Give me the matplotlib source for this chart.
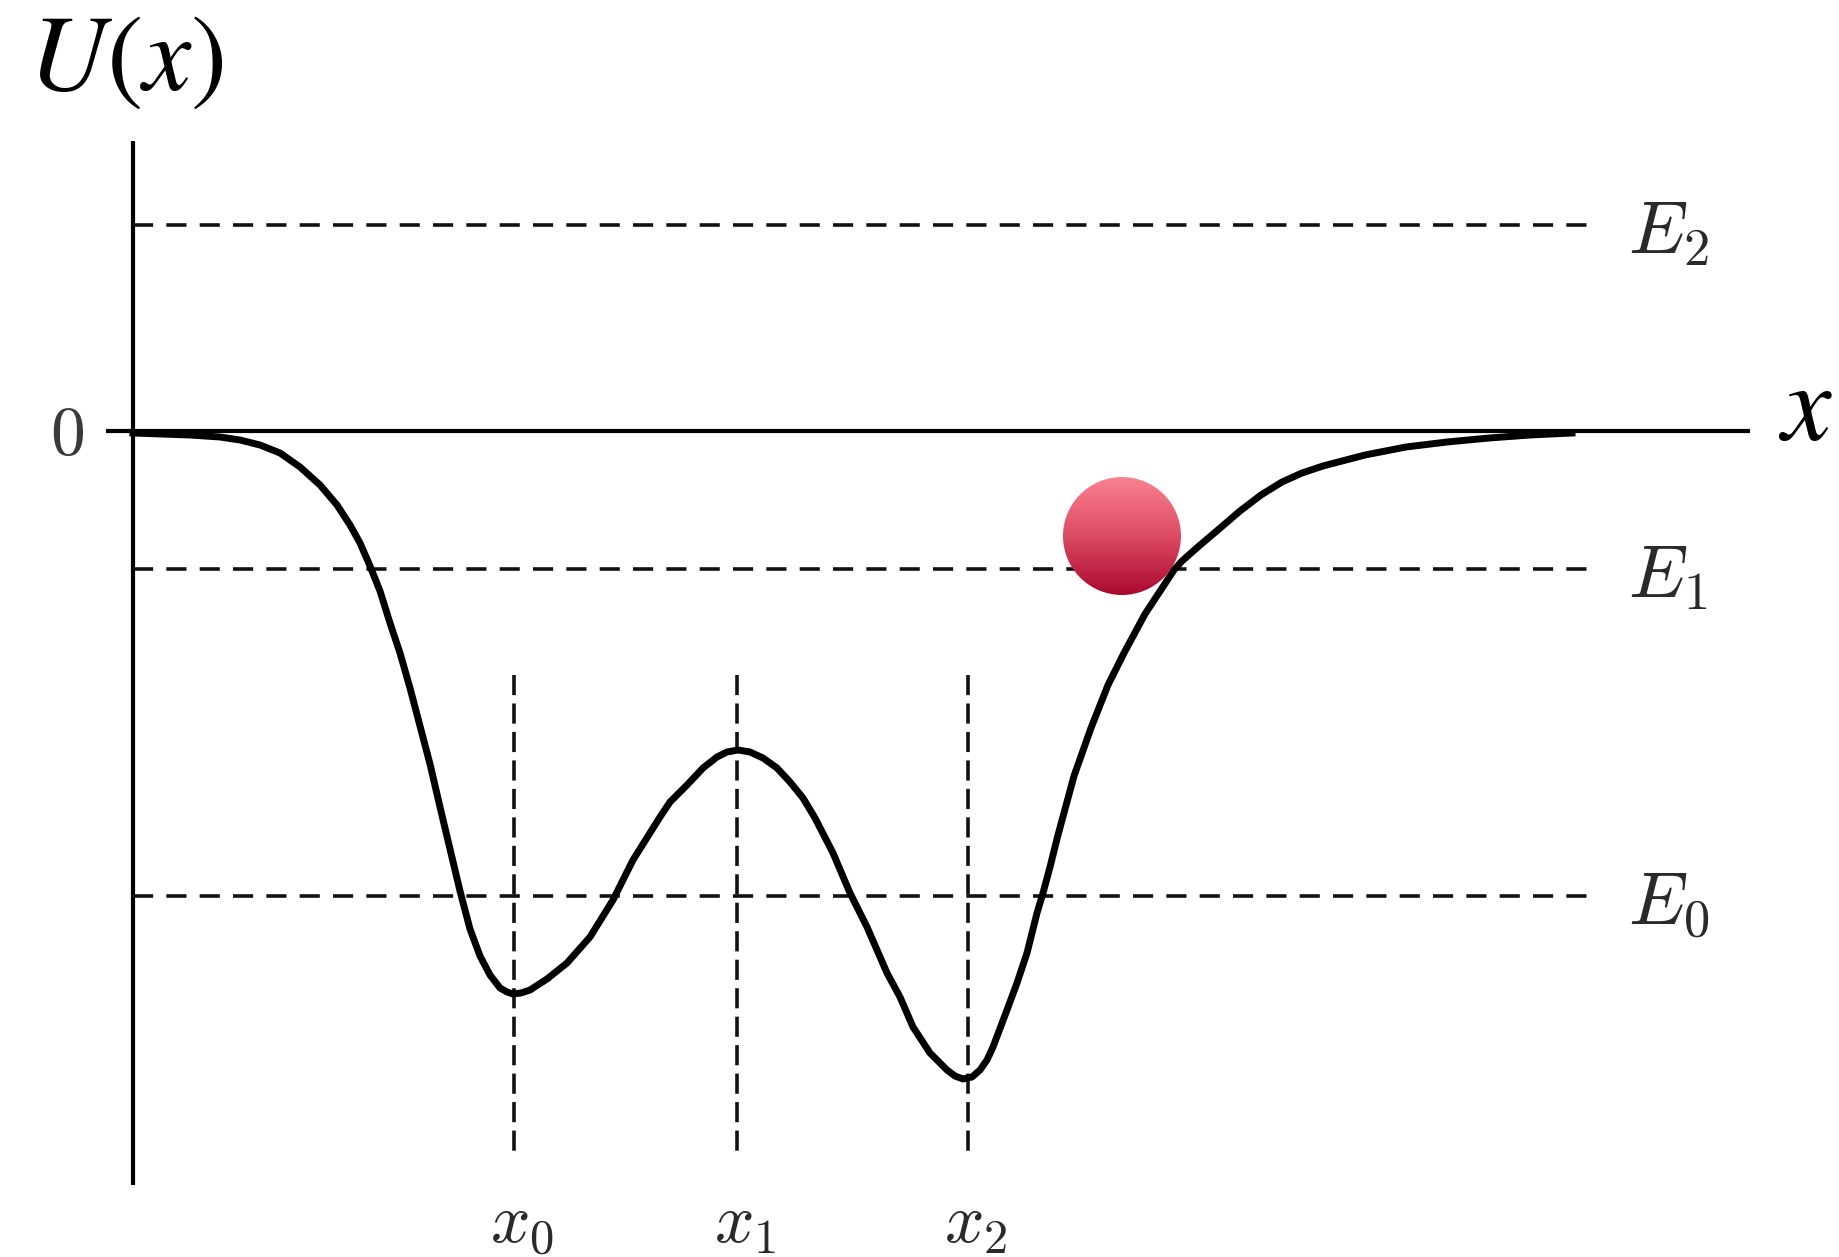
import numpy as np
import matplotlib
matplotlib.use("Agg")
import matplotlib.pyplot as plt
from matplotlib.patches import Circle

plt.rcParams['mathtext.fontset'] = 'cm'
plt.rcParams['lines.scale_dashes'] = False

# Potential curve U(x)
x_curve = [0.00, 0.57, 0.87, 1.07, 1.27, 1.47, 1.67, 1.87, 2.04, 2.17,
           2.27, 2.37, 2.47, 2.57, 2.67, 2.77, 2.87, 2.97, 3.07, 3.17,
           3.27, 3.37, 3.47, 3.57, 3.67, 3.74, 3.80, 3.88, 3.97, 4.14,
           4.34, 4.57, 4.80, 5.00, 5.27, 5.37, 5.54, 5.70, 5.84, 5.94,
           6.05, 6.17, 6.30, 6.44, 6.57, 6.70, 6.82, 7.00,
           7.17, 7.34, 7.54, 7.67, 7.80, 7.97, 8.14, 8.22, 8.30, 8.39,
           8.47, 8.54, 8.60, 8.74, 8.84, 8.94, 9.04, 9.10, 9.17, 9.25,
           9.41, 9.58, 9.75, 9.91, 10.12, 10.41, 10.49, 10.66, 10.86, 11.07,
           11.28, 11.49, 11.69, 11.90, 12.32, 12.73, 13.14, 13.56, 13.97, 14.39]
u_curve = [-0.02, -0.04, -0.06, -0.09, -0.14, -0.22, -0.36, -0.54, -0.74, -0.94,
           -1.12, -1.35, -1.60, -1.92, -2.22, -2.57, -2.95, -3.33, -3.76, -4.18,
           -4.60, -4.98, -5.25, -5.44, -5.57, -5.61, -5.63, -5.62, -5.59, -5.48,
           -5.32, -5.06, -4.69, -4.29, -3.86, -3.71, -3.54, -3.37, -3.26, -3.21,
           -3.19, -3.21, -3.27, -3.37, -3.51, -3.67, -3.87, -4.22,
           -4.62, -4.96, -5.42, -5.66, -5.96, -6.22, -6.39, -6.45, -6.48, -6.46,
           -6.39, -6.29, -6.16, -5.79, -5.52, -5.22, -4.82, -4.62, -4.36, -4.04,
           -3.45, -2.97, -2.54, -2.22, -1.83, -1.39, -1.30, -1.15, -0.98, -0.80,
           -0.64, -0.51, -0.42, -0.35, -0.24, -0.16, -0.11, -0.07, -0.04, -0.02]

# energy levels and special positions
energy_names = ['$E_0$', '$E_1$', '$E_2$']
energy_values = [-4.65, -1.38, 2.06]
pos_names = ['$x_0$', '$x_1$', '$x_2$']
pos_values = [3.81, 6.04, 8.35]

# ball position and radius
ball_x, ball_u, ball_r = 9.89, -1.05, 0.59

fig = plt.figure(figsize=(18.4, 12.57), dpi=100)
ax = fig.add_axes([0, 0, 1, 1])
ax.axis('off')

# axes lines
ax.plot([0, 0], [2.90, -7.54], color='black', lw=3, solid_capstyle='butt')
ax.plot([-0.27, 16.17], [0, 0], color='black', lw=3, solid_capstyle='butt')

# energy levels
for name, e in zip(energy_names, energy_values):
    ax.plot([0, 14.64], [e, e], color='#111111', lw=2.6, dashes=(14.5, 9.5))
    ax.text(14.95, e - 0.285, name, fontsize=54, color='#2a2a2a',
            ha='left', va='baseline')

# vertical markers
for name, p in zip(pos_names, pos_values):
    ax.plot([p, p], [-2.44, -7.25], color='#111111', lw=2.6, dashes=(14.5, 6))
    ax.text(p + 0.08, -8.11, name, fontsize=50, color='#2a2a2a',
            ha='center', va='baseline')

# potential curve
ax.plot(x_curve, u_curve, color='black', lw=5, solid_joinstyle='round')

# zero label
ax.text(-0.66, -0.04, '$0$', fontsize=50, color='#3a3a3a', ha='center', va='center')

# axis labels
ax.text(-1.05, 3.41, '$U(x)$', fontsize=78, math_fontfamily='stix',
        ha='left', va='baseline')
ax.text(16.45, -0.09, '$x$', fontsize=80, math_fontfamily='stix',
        ha='left', va='baseline')

# ball with vertical gradient
top = np.array([250, 130, 145]) / 255
mid = np.array([220, 75, 100]) / 255
bot = np.array([170, 8, 45]) / 255
t = np.linspace(0, 1, 200)[:, None]
grad = np.where(t < 0.5, top + (mid - top) * (t / 0.5), mid + (bot - mid) * ((t - 0.5) / 0.5))
grad = grad[:, None, :]
circ = Circle((ball_x, ball_u), ball_r, facecolor='none', edgecolor='none', zorder=5)
ax.add_patch(circ)
im = ax.imshow(grad, extent=[ball_x - ball_r, ball_x + ball_r, ball_u - ball_r, ball_u + ball_r],
               origin='upper', aspect='auto', zorder=5, interpolation='bilinear')
im.set_clip_path(circ)
ax.set_xlim(-1.33, 17.07)
ax.set_ylim(-8.26, 4.31)

fig.savefig('out.png', dpi=100)
